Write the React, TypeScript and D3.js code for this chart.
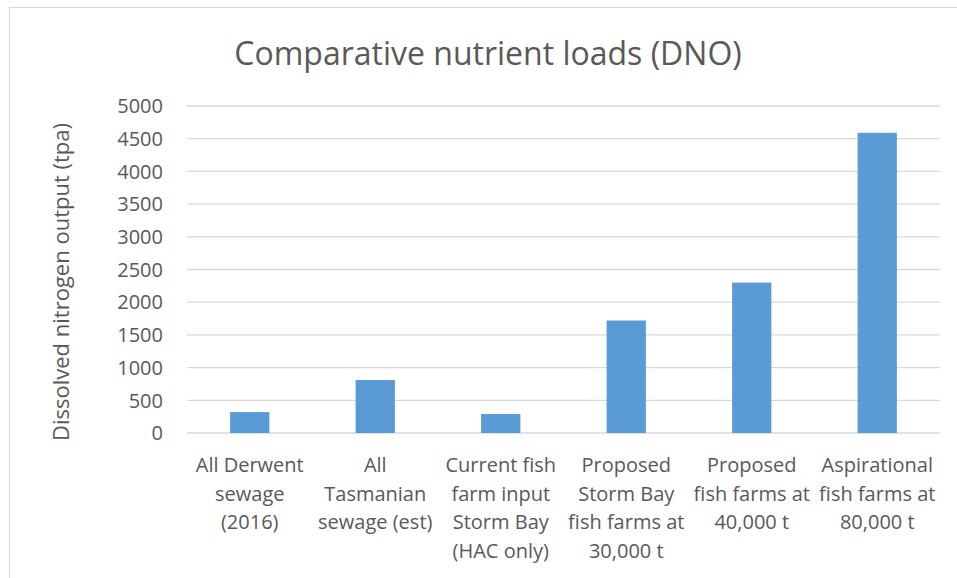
import React from "react";
import * as d3 from "d3";

const categories = [
  ["All Derwent", "sewage", "(2016)"],
  ["All", "Tasmanian", "sewage (est)"],
  ["Current fish", "farm input", "Storm Bay", "(HAC only)"],
  ["Proposed", "Storm Bay", "fish farms at", "30,000 t"],
  ["Proposed", "fish farms at", "40,000 t"],
  ["Aspirational", "fish farms at", "80,000 t"],
];
const values = [320, 810, 290, 1720, 2300, 4590];
const yTicks = [0, 500, 1000, 1500, 2000, 2500, 3000, 3500, 4000, 4500, 5000];

const title = "Comparative nutrient loads (DNO)";
const yTitle = "Dissolved nitrogen output (tpa)";

const W = 957;
const H = 578;
const margin = { left: 187, right: 17, top: 106, bottom: 145 };
const FONT = "'Open Sans', 'Noto Sans', sans-serif";
const TEXT = "#595959";

export default function App() {
  const keys = categories.map((_, i) => String(i));
  const x = d3
    .scaleBand<string>()
    .domain(keys)
    .range([margin.left, W - margin.right])
    .padding(0);
  const y = d3
    .scaleLinear()
    .domain([0, 5000])
    .range([H - margin.bottom, margin.top]);

  // Excel-style gap width (~219%)
  const barW = x.bandwidth() * 0.313;

  return (
    <svg
      width={W}
      height={H}
      style={{ position: "absolute", left: 0, top: 0, background: "#fff" }}
      fontFamily={FONT}
    >
      <rect x={9.5} y={7.5} width={W + 20} height={H + 20} fill="#fff" stroke="#D9D9D9" />
      <text
        x={488}
        y={65}
        textAnchor="middle"
        fontSize={32}
        fill={TEXT}
      >
        {title}
      </text>

      <g>
        {yTicks.map((t) => (
          <g key={t}>
            <line
              x1={margin.left}
              x2={W - margin.right}
              y1={y(t)}
              y2={y(t)}
              stroke="#D9D9D9"
              strokeWidth={1.3}
            />
            <text
              x={163}
              y={y(t)}
              dy="0.36em"
              textAnchor="end"
              fontSize={20}
              fill={TEXT}
            >
              {t}
            </text>
          </g>
        ))}
      </g>

      <g>
        {values.map((v, i) => (
          <rect
            key={i}
            x={x(String(i))! + (x.bandwidth() - barW) / 2}
            y={y(v)}
            width={barW}
            height={y(0) - y(v)}
            fill="#5B9BD5"
          />
        ))}
      </g>

      <g textAnchor="middle" fontSize={20} fill={TEXT}>
        {categories.map((lines, i) => (
          <text key={i} x={x(String(i))! + x.bandwidth() / 2} y={472}>
            {lines.map((l, j) => (
              <tspan key={j} x={x(String(i))! + x.bandwidth() / 2} dy={j === 0 ? 0 : 28.7}>
                {l}
              </tspan>
            ))}
          </text>
        ))}
      </g>

      <text
        transform={`translate(61, ${282}) rotate(-90)`}
        dy="0.35em"
        textAnchor="middle"
        fontSize={22}
        fill={TEXT}
      >
        {yTitle}
      </text>
    </svg>
  );
}
